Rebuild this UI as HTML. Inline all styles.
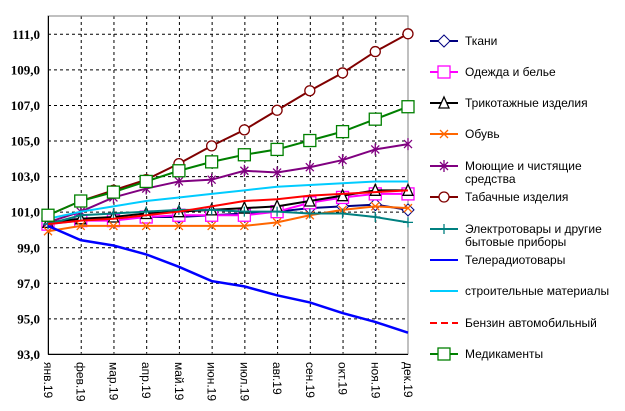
<!DOCTYPE html>
<html><head><meta charset="utf-8"><style>
body{margin:0;background:#fff}
svg{display:block;font-family:"Liberation Sans",sans-serif}
.yl{font-family:"Liberation Serif",serif;font-weight:bold;font-size:13px}
.xl{font-size:12px}
.lg{font-size:12px}
</style></head><body>
<svg width="625" height="411" viewBox="0 0 625 411" xmlns="http://www.w3.org/2000/svg">
<g id="grid" stroke="#000" stroke-dasharray="3,3" stroke-width="1"></g>
<rect x="48" y="16" width="360" height="338" fill="none" stroke="#808080"/>
<line x1="48.5" y1="16" x2="48.5" y2="354" stroke="#000"/>
<line x1="48" y1="354.5" x2="408" y2="354.5" stroke="#000"/>
<g id="ylab" class="yl" text-anchor="end"></g>
<g id="xlab" class="xl"></g>
<g id="series"></g>
<g id="legend" class="lg"></g>
</svg>
<script>
const NS="http://www.w3.org/2000/svg";
const X=i=>48+i*360/11, Y=v=>16+(112-v)*338/19;
function el(t,a,p,txt){const e=document.createElementNS(NS,t);for(const k in a)e.setAttribute(k,a[k]);if(txt!=null)e.textContent=txt;p.appendChild(e);return e;}
const grid=document.getElementById('grid');
for(let v=95;v<=111;v+=2)el('line',{x1:48,y1:Y(v)+.5,x2:408,y2:Y(v)+.5},grid);
for(let i=1;i<11;i++)el('line',{x1:X(i)+.5,y1:16,x2:X(i)+.5,y2:354},grid);
const yl=document.getElementById('ylab');
for(let v=93;v<=111;v+=2)el('text',{x:40,y:Y(v)+5},yl,v.toFixed(1).replace('.',','));
const m=['янв.19','фев.19','мар.19','апр.19','май.19','июн.19','июл.19','авг.19','сен.19','окт.19','ноя.19','дек.19'];
const xl=document.getElementById('xlab');
m.forEach((t,i)=>el('text',{transform:`translate(${X(i)-4},362) rotate(90)`},xl,t));
const S=[
['Ткани','#000080','d',[100.4,100.5,100.6,100.7,100.7,100.8,100.9,101.0,101.2,101.3,101.4,101.1]],
['Одежда и белье','#ff00ff','s',[100.3,100.5,100.5,100.7,100.8,100.8,100.8,101.0,101.5,101.8,102.0,102.0]],
['Трикотажные изделия','#000','t',[100.4,100.6,100.7,100.9,101.0,101.1,101.2,101.3,101.6,101.9,102.2,102.2]],
['Обувь','#ff6600','x',[99.9,100.2,100.2,100.2,100.2,100.2,100.2,100.4,100.8,101.1,101.3,101.2]],
['Моющие и чистящие|средства','#800080','*',[100.4,101.0,101.8,102.3,102.7,102.8,103.3,103.2,103.5,103.9,104.5,104.8]],
['Табачные изделия','#800000','o',[100.8,101.6,102.2,102.8,103.7,104.7,105.6,106.7,107.8,108.8,110.0,111.0]],
['Электротовары и другие|бытовые приборы','#008080','+',[100.3,100.8,100.9,101.0,101.1,101.1,101.0,101.0,100.9,100.9,100.7,100.4]],
['Телерадиотовары','#0000ff','',[100.2,99.4,99.1,98.6,97.9,97.1,96.8,96.3,95.9,95.3,94.8,94.2]],
['строительные материалы','#00ccff','',[100.6,101.0,101.3,101.6,101.8,102.0,102.2,102.4,102.5,102.6,102.7,102.7]],
['Бензин автомобильный','#ff0000','',[100.3,100.5,100.6,100.8,101.0,101.3,101.6,101.7,101.9,102.0,102.1,102.2]],
['Медикаменты','#008000','s',[100.8,101.6,102.1,102.7,103.3,103.8,104.2,104.5,105.0,105.5,106.2,106.9]]
];
function mk(g,type,x,y,c){
 if(type=='d')el('polygon',{points:`${x},${y-6} ${x+6},${y} ${x},${y+6} ${x-6},${y}`,fill:'#fff',stroke:c,'stroke-width':1},g);
 if(type=='s')el('rect',{x:x-6,y:y-6,width:12,height:12,fill:'#fff',stroke:c,'stroke-width':1.3},g);
 if(type=='t')el('polygon',{points:`${x},${y-6} ${x+5},${y+5} ${x-5},${y+5}`,fill:'#fff',stroke:c,'stroke-width':1.3},g);
 if(type=='o')el('circle',{cx:x,cy:y,r:5,fill:'#fff',stroke:c,'stroke-width':1.3},g);
 if(type=='x'||type=='*'){el('path',{d:`M${x-4} ${y-4}L${x+4} ${y+4}M${x-4} ${y+4}L${x+4} ${y-4}`+(type=='*'?`M${x} ${y-6}V${y+6}`:''),stroke:c,'stroke-width':1.3},g);}
 if(type=='+')el('path',{d:`M${x-5} ${y}H${x+5}M${x} ${y-5}V${y+5}`,stroke:c,'stroke-width':1.3},g);
}
const sg=document.getElementById('series'),lg=document.getElementById('legend');
const ly=[41,72,103,134,166,197,229,260,291,323,354];
S.forEach((s,k)=>{
 const pts=s[3].map((v,i)=>X(i)+','+Y(v)).join(' ');
 el('polyline',{points:pts,fill:'none',stroke:s[1],'stroke-width':k==7?2.5:2},sg);
 s[3].forEach((v,i)=>mk(sg,s[2],X(i),Y(v),s[1]));
 const y=ly[k];
 el('line',{x1:430,y1:y,x2:458,y2:y,stroke:s[1],'stroke-width':2,'stroke-dasharray':k==9?'7,4':'none'},lg);
 mk(lg,s[2],444,y,s[1]);
 const parts=s[0].split('|');
 parts.forEach((t,j)=>el('text',{x:465,y:y+4+j*13},lg,t));
});
</script>
</body></html>
